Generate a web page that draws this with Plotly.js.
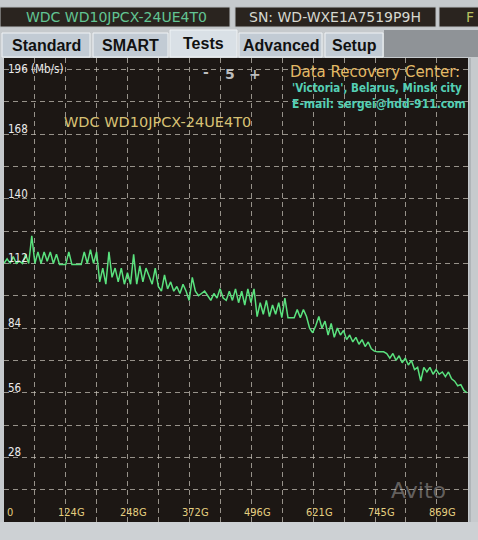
<!DOCTYPE html>
<html>
<head>
<meta charset="utf-8">
<script src="https://cdn.plot.ly/plotly-3.0.1.min.js"></script>
<style>
  html, body { margin: 0; padding: 0; background: #c6cacd; }
  #chart { width: 478px; height: 540px; }
</style>
</head>
<body>
<div id="chart"></div>
<script>
// ---- data ----
const sampleStepG = 6.2;          // GB between samples
const speedMbps = [
  112, 114, 112, 115, 112, 113, 112, 116, 112, 124,
  112, 117, 112, 117, 113, 117, 112, 116, 111.5, 111.5,
  111.5, 117, 111.5, 111.5, 111.5, 111.5, 117, 112, 118, 112,
  117, 104, 110, 103, 117, 106, 110, 104, 110, 103,
  108, 103, 116, 103, 111, 104, 110, 106, 103, 110,
  102, 100, 107, 101, 104, 100, 102, 99, 103, 100,
  96, 106, 100, 98, 99, 100, 98, 96, 99, 97,
  101, 97, 96, 100, 96, 101, 95, 100, 94, 101,
  95, 101, 89, 95, 90, 96, 89, 94, 90, 95,
  88.5, 97, 88.5, 88.5, 88.5, 92, 88.5, 92, 89, 84,
  82, 85, 89, 84, 87, 81, 86, 80, 84, 81,
  83, 79, 81, 78, 80, 77, 79, 76, 78, 75,
  74, 73.7, 73.7, 73.7, 73, 71, 73, 70, 72, 69,
  71, 68, 70, 66, 67, 61, 67, 65, 67, 64,
  66, 64, 65, 63, 65, 62, 61, 59, 59.5, 57,
  56
];
const xTickStepG = 124.2;
const xTickLabels = ["0", "124G", "248G", "372G", "496G", "621G", "745G", "869G"];
const yTickValues = [28, 56, 84, 112, 140, 168, 196];
const yTickLabels = ["28", "56", "84", "112", "140", "168", "196 (Mb/s)"];
const driveModel = "WDC WD10JPCX-24UE4T0";
const serialText = "SN: WD-WXE1A7519P9H";
const tabs = ["Standard", "SMART", "Tests", "Advanced", "Setup"];

const xPositions = speedMbps.map((_, i) => i * sampleStepG);

// ---- geometry helpers (layout decoration only) ----
const L = 4, R = 468, T = 58, B = 522;
const px = x => (x - L) / (R - L);
const py = y => (B - y) / (B - T);

const shapes = [];
const annotations = [];

// top info bar
const fields = [[0, 230], [235, 436], [439, 482]];
fields.forEach(f => shapes.push({
  type: 'rect', xref: 'paper', yref: 'paper', layer: 'above',
  x0: px(f[0]), x1: px(f[1]), y0: py(27), y1: py(7),
  fillcolor: '#2a241f', line: { color: '#b9bdc0', width: 1 }
}));
annotations.push({ xref: 'paper', yref: 'paper', x: px(116), y: py(17), text: driveModel, showarrow: false,
  xanchor: 'center', yanchor: 'middle', font: { family: 'DejaVu Sans', size: 14, color: '#62c493' } });
annotations.push({ xref: 'paper', yref: 'paper', x: px(335), y: py(17), text: serialText, showarrow: false,
  xanchor: 'center', yanchor: 'middle', font: { family: 'DejaVu Sans', size: 14, color: '#d6d8d0' } });
annotations.push({ xref: 'paper', yref: 'paper', x: px(470), y: py(17), text: 'F', showarrow: false,
  xanchor: 'center', yanchor: 'middle', font: { family: 'DejaVu Sans', size: 14, color: '#b8c060' } });

// tab strip
shapes.push({ type: 'rect', xref: 'paper', yref: 'paper', layer: 'below',
  x0: px(384), x1: px(482), y0: py(57), y1: py(30), fillcolor: '#8f9397', line: { width: 0 } });
const tabBox = [[2, 90], [93, 168], [170, 237], [239, 322], [325, 383]];
tabs.forEach((t, i) => {
  const active = t === 'Tests';
  shapes.push({ type: 'rect', xref: 'paper', yref: 'paper', layer: 'below',
    x0: px(tabBox[i][0]), x1: px(tabBox[i][1]), y0: py(57), y1: py(active ? 30 : 33),
    fillcolor: active ? '#d9e0e6' : '#c2cbd4', line: { color: '#f0f3f5', width: 1 } });
  annotations.push({ xref: 'paper', yref: 'paper', x: px((tabBox[i][0] + tabBox[i][1]) / 2), y: py(active ? 43.5 : 45.5),
    text: '<b>' + t + '</b>', showarrow: false, xanchor: 'center', yanchor: 'middle',
    font: { family: 'Liberation Sans', size: 16, color: '#111111' } });
});

// in-plot texts
const minus = { text: '-', x: 206, y: 72 }, five = { text: '5', x: 230, y: 74 }, plus = { text: '+', x: 255, y: 74 };
[minus, five, plus].forEach(o => annotations.push({ xref: 'paper', yref: 'paper', x: px(o.x), y: py(o.y),
  text: '<b>' + o.text + '</b>', showarrow: false, xanchor: 'center', yanchor: 'middle',
  font: { family: 'DejaVu Sans', size: 14, color: '#bdbdbd' } }));
annotations.push({ xref: 'paper', yref: 'paper', x: px(288), y: py(72), text: 'Data Recovery Center:', showarrow: false,
  xanchor: 'left', yanchor: 'middle', font: { family: 'DejaVu Sans', size: 15, color: '#e3b964' } });
annotations.push({ xref: 'paper', yref: 'paper', x: px(290), y: py(88.5), text: "<b>'Victoria', Belarus, Minsk city</b>", showarrow: false,
  xanchor: 'left', yanchor: 'middle', font: { family: 'DejaVu Sans Condensed', size: 11.5, color: '#55cfb4' } });
annotations.push({ xref: 'paper', yref: 'paper', x: px(290), y: py(104), text: '<b>E-mail: sergei@hdd-911.com</b>', showarrow: false,
  xanchor: 'left', yanchor: 'middle', font: { family: 'DejaVu Sans Condensed', size: 12, color: '#55cfb4' } });
annotations.push({ xref: 'paper', yref: 'paper', x: px(62), y: py(122), text: driveModel, showarrow: false,
  xanchor: 'left', yanchor: 'middle', font: { family: 'DejaVu Sans', size: 14.5, color: '#d8c274' } });

// axis labels drawn inside the plot via the axes' scales
xTickLabels.forEach((lab, k) => annotations.push({ xref: 'x', yref: 'paper', x: k * xTickStepG, y: 0,
  xshift: 6, yshift: 1, text: lab, showarrow: false, xanchor: 'center', yanchor: 'bottom',
  font: { family: 'DejaVu Sans Condensed', size: 11, color: '#e4cf80' } }));
yTickValues.forEach((v, k) => annotations.push({ xref: 'paper', yref: 'y', x: 0, y: v,
  xshift: 2, yshift: k === yTickValues.length - 1 ? 1 : 5, text: yTickLabels[k], showarrow: false,
  xanchor: 'left', yanchor: 'middle',
  font: { family: 'DejaVu Sans Condensed', size: 11.5, color: '#ececec' } }));

// watermark (kept clear of the axis labels)
annotations.push({ xref: 'paper', yref: 'paper', x: px(418), y: py(490), text: 'Avito', showarrow: false,
  xanchor: 'center', yanchor: 'middle', font: { family: 'DejaVu Sans', size: 22, color: 'rgba(255,255,255,0.32)' } });

// bottom/right frame
shapes.push({ type: 'rect', xref: 'paper', yref: 'paper', layer: 'below',
  x0: px(0), x1: px(478), y0: py(540), y1: py(522), fillcolor: '#cdd1d4', line: { width: 0 } });
shapes.push({ type: 'line', xref: 'paper', yref: 'paper', layer: 'above',
  x0: px(470), x1: px(470), y0: py(522), y1: py(58), line: { color: '#9aa0a4', width: 1 } });

const gridCol = 'rgba(200,194,184,0.72)';
const trace = {
  type: 'scatter', mode: 'lines', x: xPositions, y: speedMbps,
  line: { color: '#5ae27e', width: 1.5 }, hoverinfo: 'skip'
};

const layout = {
  width: 478, height: 540,
  margin: { l: L, r: 478 - R, t: T, b: 540 - B, pad: 0 },
  paper_bgcolor: '#c6cacd', plot_bgcolor: '#1c1714',
  showlegend: false,
  xaxis: {
    range: [0, 932], tick0: 0, dtick: xTickStepG, showticklabels: false, ticks: '',
    showgrid: true, gridcolor: gridCol, griddash: '5px,4px', gridwidth: 1, zeroline: false,
    minor: { tick0: 0, dtick: xTickStepG / 2, showgrid: true, gridcolor: gridCol, griddash: '5px,4px', gridwidth: 1, ticks: '' },
    showline: false, fixedrange: true
  },
  yaxis: {
    range: [0, 201], tick0: 0, dtick: 28, showticklabels: false, ticks: '',
    showgrid: true, gridcolor: gridCol, griddash: '5px,4px', gridwidth: 1, zeroline: false,
    minor: { tick0: 0, dtick: 14, showgrid: true, gridcolor: gridCol, griddash: '5px,4px', gridwidth: 1, ticks: '' },
    showline: false, fixedrange: true
  },
  shapes: shapes,
  annotations: annotations
};

Plotly.newPlot('chart', [trace], layout, { displayModeBar: false, staticPlot: true });
</script>
</body>
</html>
